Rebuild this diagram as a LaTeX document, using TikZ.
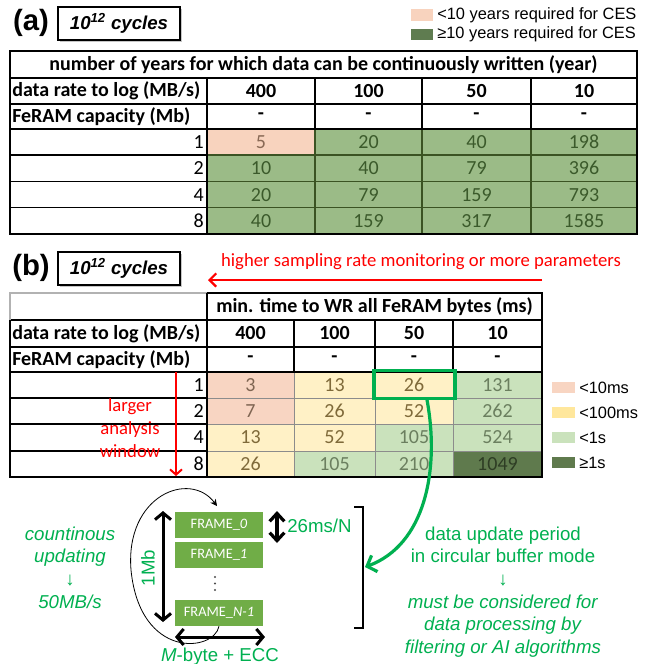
\documentclass[tikz,border=0pt]{standalone}
\usepackage{fontspec}
\setmainfont{Carlito}
\newfontfamily\arialf{Liberation Sans}
\usetikzlibrary{arrows.meta,shadows}
\definecolor{peachA}{HTML}{F8D3BE}
\definecolor{greenA}{HTML}{9BBB87}
\definecolor{legGreenA}{HTML}{5F7C50}
\definecolor{txtGreenA}{HTML}{3B5A2B}
\definecolor{txtPeachA}{HTML}{8A6A56}
\definecolor{gridA}{HTML}{3B5323}
\definecolor{peachB}{HTML}{F8D5C2}
\definecolor{yellowB}{HTML}{FFF1C6}
\definecolor{ltgreenB}{HTML}{CAE2BC}
\definecolor{dkgreenB}{HTML}{5F7A4D}
\definecolor{legYellowB}{HTML}{FFE79C}
\definecolor{txtPeachB}{HTML}{7F6552}
\definecolor{txtYellowB}{HTML}{7F6A3A}
\definecolor{txtLtgreenB}{HTML}{6B7F5F}
\definecolor{txtDkgreenB}{HTML}{2E3D24}
\definecolor{gridB}{HTML}{8C8C8C}
\definecolor{accgreen}{HTML}{00B050}
\definecolor{framegreen}{HTML}{70AD47}
\begin{document}
\begin{tikzpicture}[x=0.75pt,y=-0.75pt,
  tbl/.style={font=\fontsize{15}{16}\selectfont, inner sep=0pt, anchor=center},
  tblb/.style={font=\fontsize{15}{16}\selectfont\bfseries, inner sep=0pt, anchor=center},
  blk/.style={line width=1pt, black},
  cycbox/.style={draw, line width=0.8pt, fill=white, minimum width=91.5pt, minimum height=24.75pt,
     drop shadow={shadow xshift=1.5pt, shadow yshift=-1.5pt, opacity=0.45},
     font=\arialf\bfseries\itshape\fontsize{14}{16}\selectfont},
  panel/.style={font=\arialf\bfseries\fontsize{22}{24}\selectfont, inner sep=0pt},
  legtxt/.style={font=\arialf\fontsize{12.3}{14}\selectfont, anchor=west, inner sep=0pt},
  grtxt/.style={font=\arialf\fontsize{14}{17}\selectfont, text=accgreen, align=center, inner sep=0pt},
  redtxt/.style={font=\fontsize{14}{17.25}\selectfont, text=red, align=center, inner sep=0pt},
  frame/.style={fill=framegreen, text=white, minimum width=66pt, minimum height=19.5pt, inner sep=0pt,
     font=\fontsize{10.8}{12}\selectfont},
  bigarrow/.style={line width=2.25pt, {Straight Barb[length=5pt,width=12pt]}-{Straight Barb[length=5pt,width=12pt]}},
  smallarrow/.style={line width=2.4pt, {Straight Barb[length=6pt,width=11pt]}-{Straight Barb[length=6pt,width=11pt]}}
]
\useasboundingbox (0,0) rectangle (658,664);

%% ================= (a) =================
\node[panel] (pa) at (31,23) {(a)};
\node[cycbox] (cya) at (119,23.5) {10\textsuperscript{12} cycles};
\fill[peachA] (411,9) rectangle (433,21);
\fill[legGreenA] (411,29) rectangle (433,40);
\node[legtxt] (la1) at (437,15) {<10 years required for CES};
\node[legtxt] (la2) at (437,34.5) {≥10 years required for CES};

% fills
\fill[greenA] (207,129) rectangle (637,234);
\fill[peachA] (207,129) rectangle (315,155);
% grid
\foreach \yy in {155,181.7,207.7} {
  \draw[gridA, line width=0.9pt] (207,\yy) -- (637,\yy);
  \draw[blk] (10,\yy) -- (207,\yy);
}
\foreach \xx in {315,422,531} {
  \draw[blk] (\xx,78) -- (\xx,129);
  \draw[gridA, line width=0.9pt] (\xx,129) -- (\xx,234);
}
\foreach \yy in {78,104,129} \draw[blk] (10,\yy) -- (637,\yy);
\draw[blk] (207,78) -- (207,234);
\draw[blk] (10,51) rectangle (637,234);

% texts
\node[tblb] (ah) at (323.5,64.5) {number of years for which data can be continuously written (year)};
\node[tblb, anchor=west] (ar1) at (12,91) {data rate to log (MB/s)};
\node[tblb] (ar1c1) at (261,91) {400};
\node[tblb] (ar1c2) at (368.5,91) {100};
\node[tblb] (ar1c3) at (476.5,91) {50};
\node[tblb] (ar1c4) at (584,91) {10};
\node[tblb, anchor=west] (ar2) at (12,116.5) {FeRAM capacity (Mb)};
\node[tblb] (ar2c1) at (261,116.5) {-};
\node[tblb] (ar2c2) at (368.5,116.5) {-};
\node[tblb] (ar2c3) at (476.5,116.5) {-};
\node[tblb] (ar2c4) at (584,116.5) {-};
\node[tbl, anchor=east] (ad1) at (204,142) {1};
\node[tbl, anchor=east] (ad2) at (204,168.3) {2};
\node[tbl, anchor=east] (ad3) at (204,194.7) {4};
\node[tbl, anchor=east] (ad4) at (204,221) {8};
\node[tbl, text=txtPeachA] (ad1c1) at (261,142) {5};
\node[tbl, text=txtGreenA] (ad1c2) at (368.5,142) {20};
\node[tbl, text=txtGreenA] (ad1c3) at (476.5,142) {40};
\node[tbl, text=txtGreenA] (ad1c4) at (584,142) {198};
\node[tbl, text=txtGreenA] (ad2c1) at (261,168.3) {10};
\node[tbl, text=txtGreenA] (ad2c2) at (368.5,168.3) {40};
\node[tbl, text=txtGreenA] (ad2c3) at (476.5,168.3) {79};
\node[tbl, text=txtGreenA] (ad2c4) at (584,168.3) {396};
\node[tbl, text=txtGreenA] (ad3c1) at (261,194.7) {20};
\node[tbl, text=txtGreenA] (ad3c2) at (368.5,194.7) {79};
\node[tbl, text=txtGreenA] (ad3c3) at (476.5,194.7) {159};
\node[tbl, text=txtGreenA] (ad3c4) at (584,194.7) {793};
\node[tbl, text=txtGreenA] (ad4c1) at (261,221) {40};
\node[tbl, text=txtGreenA] (ad4c2) at (368.5,221) {159};
\node[tbl, text=txtGreenA] (ad4c3) at (476.5,221) {317};
\node[tbl, text=txtGreenA] (ad4c4) at (584,221) {1585};

%% ================= (b) =================
\node[panel] (pb) at (31,268) {(b)};
\node[cycbox] (cyb) at (119,268.5) {10\textsuperscript{12} cycles};
\node[redtxt] (rtop) at (421,262) {higher sampling rate monitoring or more parameters};
\coordinate (rS) at (542,280);
\coordinate (rE) at (208,280);
\draw[red, line width=1.6pt, -{Straight Barb[length=5pt,width=10pt]}] (rS) -- (rE);

% fills
\foreach \xa/\ya/\xb/\yb/\cc in {
  207/372/294/398/peachB, 294/372/375/398/yellowB, 375/372/453/398/yellowB, 453/372/542/398/ltgreenB,
  207/398/294/424/peachB, 294/398/375/424/yellowB, 375/398/453/424/yellowB, 453/398/542/424/ltgreenB,
  207/424/294/451/yellowB, 294/424/375/451/yellowB, 375/424/453/451/ltgreenB, 453/424/542/451/ltgreenB,
  207/451/294/477/yellowB, 294/451/375/477/ltgreenB, 375/451/453/477/ltgreenB, 453/451/542/477/dkgreenB}
  \fill[\cc] (\xa,\ya) rectangle (\xb,\yb);
% grid
\foreach \xx in {294,375,453} {
  \draw[blk] (\xx,320) -- (\xx,372);
  \draw[gridB, line width=0.6pt] (\xx,372) -- (\xx,477);
}
\foreach \yy in {398,424,451} {
  \draw[gridB, line width=0.6pt] (207,\yy) -- (542,\yy);
  \draw[blk] (10,\yy) -- (207,\yy);
}
\foreach \yy in {320,347,372} \draw[blk] (10,\yy) -- (542,\yy);
\draw[gray!60, line width=0.8pt] (207,293) -- (10,293) -- (10,320);
\draw[blk] (207,293) -- (542,293) -- (542,477) -- (10,477) -- (10,320);
\draw[blk] (207,293) -- (207,477);

% texts
\node[tblb] (bh) at (374.5,306.5) {min. time to WR all FeRAM bytes (ms)};
\node[tblb, anchor=west] (br1) at (12,333.5) {data rate to log (MB/s)};
\node[tblb] (br1c1) at (250.5,333.5) {400};
\node[tblb] (br1c2) at (334.5,333.5) {100};
\node[tblb] (br1c3) at (414,333.5) {50};
\node[tblb] (br1c4) at (497.5,333.5) {10};
\node[tblb, anchor=west] (br2) at (12,359.5) {FeRAM capacity (Mb)};
\node[tblb] (br2c1) at (250.5,359.5) {-};
\node[tblb] (br2c2) at (334.5,359.5) {-};
\node[tblb] (br2c3) at (414,359.5) {-};
\node[tblb] (br2c4) at (497.5,359.5) {-};
\node[tbl, anchor=east] (bd1) at (204,385) {1};
\node[tbl, anchor=east] (bd2) at (204,411) {2};
\node[tbl, anchor=east] (bd3) at (204,437.5) {4};
\node[tbl, anchor=east] (bd4) at (204,464) {8};
\node[tbl, text=txtPeachB] (bd1c1) at (250.5,385) {3};
\node[tbl, text=txtYellowB] (bd1c2) at (334.5,385) {13};
\node[tbl, text=txtYellowB] (bd1c3) at (414,385) {26};
\node[tbl, text=txtLtgreenB] (bd1c4) at (497.5,385) {131};
\node[tbl, text=txtPeachB] (bd2c1) at (250.5,411) {7};
\node[tbl, text=txtYellowB] (bd2c2) at (334.5,411) {26};
\node[tbl, text=txtYellowB] (bd2c3) at (414,411) {52};
\node[tbl, text=txtLtgreenB] (bd2c4) at (497.5,411) {262};
\node[tbl, text=txtYellowB] (bd3c1) at (250.5,437.5) {13};
\node[tbl, text=txtYellowB] (bd3c2) at (334.5,437.5) {52};
\node[tbl, text=txtLtgreenB] (bd3c3) at (414,437.5) {105};
\node[tbl, text=txtLtgreenB] (bd3c4) at (497.5,437.5) {524};
\node[tbl, text=txtYellowB] (bd4c1) at (250.5,464) {26};
\node[tbl, text=txtLtgreenB] (bd4c2) at (334.5,464) {105};
\node[tbl, text=txtLtgreenB] (bd4c3) at (414,464) {210};
\node[tbl, text=txtDkgreenB] (bd4c4) at (497.5,464) {1049};

% legend b
\fill[peachB] (552,382) rectangle (575,392.5);
\fill[legYellowB] (552,407) rectangle (575,417.5);
\fill[ltgreenB] (552,432) rectangle (575,442.5);
\fill[dkgreenB] (552,457) rectangle (575,467.5);
\node[legtxt] (lb1) at (579,387.5) {<10ms};
\node[legtxt] (lb2) at (579,412.5) {<100ms};
\node[legtxt] (lb3) at (579,437.5) {<1s};
\node[legtxt] (lb4) at (579,462.5) {≥1s};

% red vertical arrow
\coordinate (vS) at (176,372);
\coordinate (vE) at (176,476);
\draw[red, line width=1.5pt, -{Straight Barb[length=4pt,width=9pt]}] (vS) -- (vE);
\node[redtxt] (law) at (130,428) {larger\\analysis\\window};

% green highlight and arrow
\node[draw=accgreen, line width=2.4pt, minimum width=60.75pt, minimum height=21pt, inner sep=0pt] (hl) at (414.5,384.2) {};
\coordinate (brk) at (365,567);
\draw[accgreen, line width=2.4pt, -{Straight Barb[length=6pt,width=13pt]}]
  (hl.south -| 427,0) .. controls (440,470) and (425,545) .. (brk);

%% ================= bottom =================
\node[frame] (f0) at (219,525) {FRAME\_\textit{0}};
\node[frame] (f1) at (219,554.5) {FRAME\_\textit{1}};
\node[frame] (fN) at (219,613) {FRAME\_\textit{N-1}};
\fill[black!70] (215,577) circle (1.1) (215,583.5) circle (1.1) (215,590) circle (1.1);

\coordinate (mT) at (163,511);
\coordinate (mB) at (163,622);
\draw[bigarrow] (mT) -- (mB);
\node[grtxt, rotate=90] (mb) at (148,568) {1Mb};

\coordinate (hL) at (175,637);
\coordinate (hR) at (265,637);
\draw[bigarrow] (hL) -- (hR);
\node[grtxt] (mbyte) at (220,656.5) {\textit{M}-byte + ECC};

\coordinate (sT) at (277,511);
\coordinate (sB) at (277,543);
\draw[smallarrow] (sT) -- (sB);
\node[grtxt, anchor=west] (t26) at (287,526) {26ms/N};

\coordinate (cTop) at (217,506);
\draw[line width=0.6pt, -{Stealth[length=5pt,width=5pt]}]
  (fN.south) .. controls (214,652) and (140,660) .. (131,570) .. controls (125,495) and (190,470) .. (cTop);

\coordinate (bT) at (354,507);
\coordinate (bB) at (354,628);
\draw[line width=2.2pt] (bT) -- (363,507) -- (363,628) -- (bB);

\node[grtxt] (lupd) at (70,567.5) {\textit{countinous}\\\textit{updating}\\↓\\\textit{50MB/s}};
\node[grtxt] (rupd) at (503,592) {data update period\\in circular buffer mode\\↓\\\textit{must be considered for}\\\textit{data processing by}\\\textit{filtering or AI algorithms}};
\end{tikzpicture}
\end{document}
